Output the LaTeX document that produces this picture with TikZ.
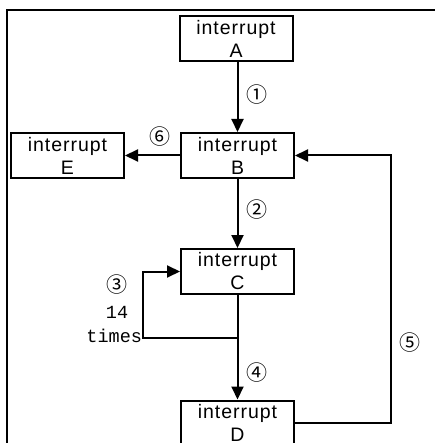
\documentclass[tikz,border=0pt]{standalone}
\usepackage{fontspec}
\setmainfont{Liberation Sans}
\newfontfamily\boxfont[LetterSpace=5]{Liberation Sans}
\newfontfamily\circfont{Noto Sans CJK SC}
\newfontfamily\monofont{Liberation Mono}
\usetikzlibrary{arrows.meta}
\begin{document}
\begin{tikzpicture}[x=1pt,y=-1pt,
  line width=2pt,
  ibox/.style={draw,minimum width=113pt,minimum height=45pt,inner sep=0pt,align=center,
    font=\boxfont\fontsize{19.5}{23}\selectfont},
  lbl/.style={inner sep=0pt,font=\circfont\fontsize{21}{21}\selectfont},
  mlbl/.style={inner sep=0pt,font=\monofont\fontsize{18.5}{18.5}\selectfont},
  arr/.style={-{Triangle[length=13pt,width=12pt]}}]
\useasboundingbox (0,0) rectangle (434,443);
\draw (7,460) -- (7,10) -- (450,10);
\node[ibox] (A) at (236,38.5) {interrupt\\A};
\node[ibox] (B) at (237.5,155.5) {interrupt\\B};
\node[ibox] (E) at (67.5,155.5) {interrupt\\E};
\node[ibox] (C) at (237.5,271.5) {interrupt\\C};
\node[ibox] (D) at (237.5,423) {interrupt\\D};
\coordinate (j) at (237.5,338);
\coordinate (lp) at (143,338);
\coordinate (r) at (391,422);
\draw[arr] (A.south -| B.north) -- (B.north);
\draw[arr] (B.west) -- (E.east);
\draw[arr] (B.south) -- (C.north);
\draw (C.south) -- (j);
\draw[arr] (j) -- (D.north);
\draw[arr] (j) -- (lp) |- (C.west);
\draw[arr] (D.east) -- (D.east -| r) |- (B.east);
\node[lbl] (n1) at (257,95) {①};
\node[lbl] (n2) at (257,210) {②};
\node[lbl] (n3) at (117,285) {③};
\node[mlbl] (t14) at (117,312) {14};
\node[mlbl,anchor=east] (tt) at (143,336) {times};
\node[lbl] (n4) at (257,373) {④};
\node[lbl] (n5) at (410,343) {⑤};
\node[lbl] (n6) at (160,137) {⑥};
\end{tikzpicture}
\end{document}
